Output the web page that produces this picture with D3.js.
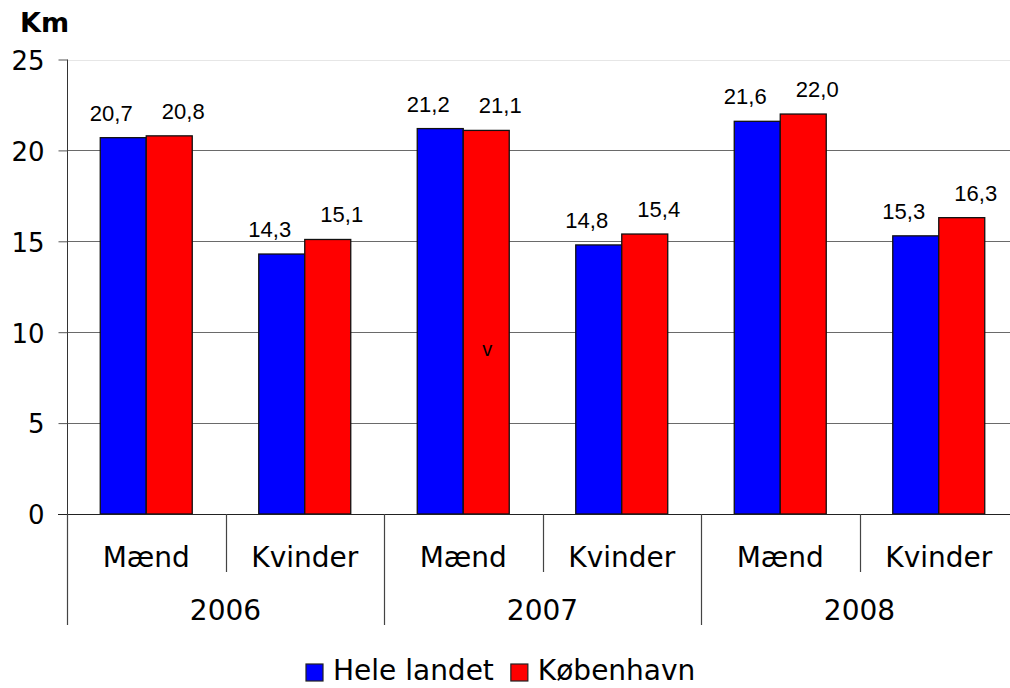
<!DOCTYPE html>
<html>
<head>
<meta charset="utf-8">
<script src="https://cdn.jsdelivr.net/npm/d3@7"></script>
<style>
  body { margin: 0; background: #fff; }
  svg { display: block; }
</style>
</head>
<body>
<div id="chart"></div>
<script>
// Data
const years = ["2006", "2007", "2008"];
const genders = ["Mænd", "Kvinder"];
const seriesNames = ["Hele landet", "København"];
const heleLandet = [20.7, 14.3, 21.2, 14.8, 21.6, 15.3];
const kobenhavn = [20.8, 15.1, 21.1, 15.4, 22.0, 16.3];
const yTicks = [0, 5, 10, 15, 20, 25];

const W = 1010, H = 688;
const margin = { top: 59.5, left: 67, bottom: 174 };
const plotRight = 1018; // plot area runs just past the picture edge
const height = H - margin.top - margin.bottom;

const svg = d3.select("#chart").append("svg")
    .attr("width", W)
    .attr("height", H);

// Flatten categories: year x gender
const cats = [];
years.forEach(yr => genders.forEach(g => cats.push({ year: yr, gender: g, key: yr + "|" + g })));
const rows = cats.map((c, i) => ({ ...c, values: [heleLandet[i], kobenhavn[i]] }));

const x = d3.scaleBand()
    .domain(cats.map(c => c.key))
    .range([margin.left, plotRight]);

const xInner = d3.scaleBand()
    .domain(seriesNames)
    .range([0, x.bandwidth()])
    .paddingOuter(0.723);

const y = d3.scaleLinear()
    .domain([0, 25])
    .range([margin.top + height, margin.top]);

const color = d3.scaleOrdinal()
    .domain(seriesNames)
    .range(["#0000ff", "#ff0000"]);

const fmt = v => d3.format(".1f")(v).replace(".", ",");

// Gridlines
svg.append("g")
    .selectAll("line")
    .data(yTicks.filter(t => t > 0))
    .enter().append("line")
    .attr("x1", margin.left)
    .attr("x2", plotRight)
    .attr("y1", d => Math.round(y(d)) + 0.5)
    .attr("y2", d => Math.round(y(d)) + 0.5)
    .attr("stroke", d => d === 25 ? "#e6e6e6" : "#6a6a6a")
    .attr("stroke-width", 1);

// Y axis
const yAxis = svg.append("g")
    .attr("transform", `translate(${margin.left + 0.5},0)`)
    .call(d3.axisLeft(y).tickValues(yTicks).tickSize(9).tickPadding(14));
yAxis.select(".domain").attr("stroke", "#333").attr("d", `M0,${y(25)}V${y(0)}`);
yAxis.selectAll(".tick line").attr("stroke", "#555");
yAxis.selectAll(".tick text")
    .attr("fill", "#000")
    .style("font-family", "'DejaVu Sans', Verdana, sans-serif")
    .style("font-size", "26px")
    .attr("dy", "0.38em");

// Bars
const groups = svg.append("g")
    .selectAll("g")
    .data(rows)
    .enter().append("g")
    .attr("transform", d => `translate(${x(d.key)},0)`);

groups.selectAll("rect")
    .data(d => d.values.map((v, i) => ({ name: seriesNames[i], value: v })))
    .enter().append("rect")
    .attr("x", d => xInner(d.name))
    .attr("y", d => y(d.value))
    .attr("width", xInner.bandwidth())
    .attr("height", d => y(0) - y(d.value))
    .attr("fill", d => color(d.name))
    .attr("stroke", "#111")
    .attr("stroke-width", 1.3);

// Value labels
groups.selectAll("text.val")
    .data(d => d.values.map((v, i) => ({ name: seriesNames[i], value: v, i })))
    .enter().append("text")
    .attr("class", "val")
    .attr("x", d => xInner(d.name) + xInner.bandwidth() / 2 + (d.i === 0 ? -12 : 14))
    .attr("y", d => y(d.value) - 17)
    .attr("text-anchor", "middle")
    .style("font-family", "'Liberation Sans', Arial, sans-serif")
    .style("font-size", "22px")
    .attr("fill", "#000")
    .text(d => fmt(d.value));

// Zero line
svg.append("line")
    .attr("x1", margin.left - 9)
    .attr("x2", plotRight)
    .attr("y1", y(0) + 0.5)
    .attr("y2", y(0) + 0.5)
    .attr("stroke", "#222")
    .attr("stroke-width", 1.2);

// Category separators: short between genders, long between years
const baseY = y(0);
cats.forEach((c, i) => {
    const xPos = Math.round(x(c.key)) + 0.5;
    const long = i % genders.length === 0;
    svg.append("line")
        .attr("x1", xPos).attr("x2", xPos)
        .attr("y1", baseY)
        .attr("y2", baseY + (long ? 111 : 58))
        .attr("stroke", "#444")
        .attr("stroke-width", 1.2);
});
svg.append("line")
    .attr("x1", plotRight - 0.5).attr("x2", plotRight - 0.5)
    .attr("y1", baseY).attr("y2", baseY + 111)
    .attr("stroke", "#444");

// Gender labels
svg.append("g")
    .selectAll("text")
    .data(cats)
    .enter().append("text")
    .attr("x", d => x(d.key) + x.bandwidth() / 2)
    .attr("y", baseY + 53)
    .attr("text-anchor", "middle")
    .style("font-family", "'DejaVu Sans', Verdana, sans-serif")
    .style("font-size", "28px")
    .attr("fill", "#000")
    .text(d => d.gender);

// Year labels
svg.append("g")
    .selectAll("text")
    .data(years)
    .enter().append("text")
    .attr("x", yr => (x(yr + "|" + genders[0]) + x(yr + "|" + genders[genders.length - 1]) + x.bandwidth()) / 2)
    .attr("y", baseY + 106)
    .attr("text-anchor", "middle")
    .style("font-family", "'DejaVu Sans', Verdana, sans-serif")
    .style("font-size", "28px")
    .attr("fill", "#000")
    .text(yr => yr);

// Y unit label
svg.append("text")
    .attr("x", 20)
    .attr("y", 32)
    .style("font-family", "'DejaVu Sans', Verdana, sans-serif")
    .style("font-size", "27px")
    .style("font-weight", "bold")
    .attr("fill", "#000")
    .text("Km");

// Stray "v" mark inside a bar, as in the original
svg.append("text")
    .attr("x", x("2007|Mænd") + xInner("København") + 19)
    .attr("y", y(8.7))
    .style("font-family", "'Liberation Sans', Arial, sans-serif")
    .style("font-size", "20px")
    .attr("fill", "#000")
    .text("v");

// Legend
const legend = svg.append("g").attr("transform", "translate(306,664)");
let lx = 0;
seriesNames.forEach(name => {
    const item = legend.append("g").attr("transform", `translate(${lx},0)`);
    item.append("rect")
        .attr("width", 17).attr("height", 17)
        .attr("fill", color(name))
        .attr("stroke", "#222")
        .attr("stroke-width", 1.2);
    const t = item.append("text")
        .attr("x", 27)
        .attr("y", 16)
        .style("font-family", "'DejaVu Sans', Verdana, sans-serif")
        .style("font-size", "28px")
        .attr("fill", "#000")
        .text(name);
    lx += 27 + t.node().getComputedTextLength() + 17;
});
</script>
</body>
</html>
